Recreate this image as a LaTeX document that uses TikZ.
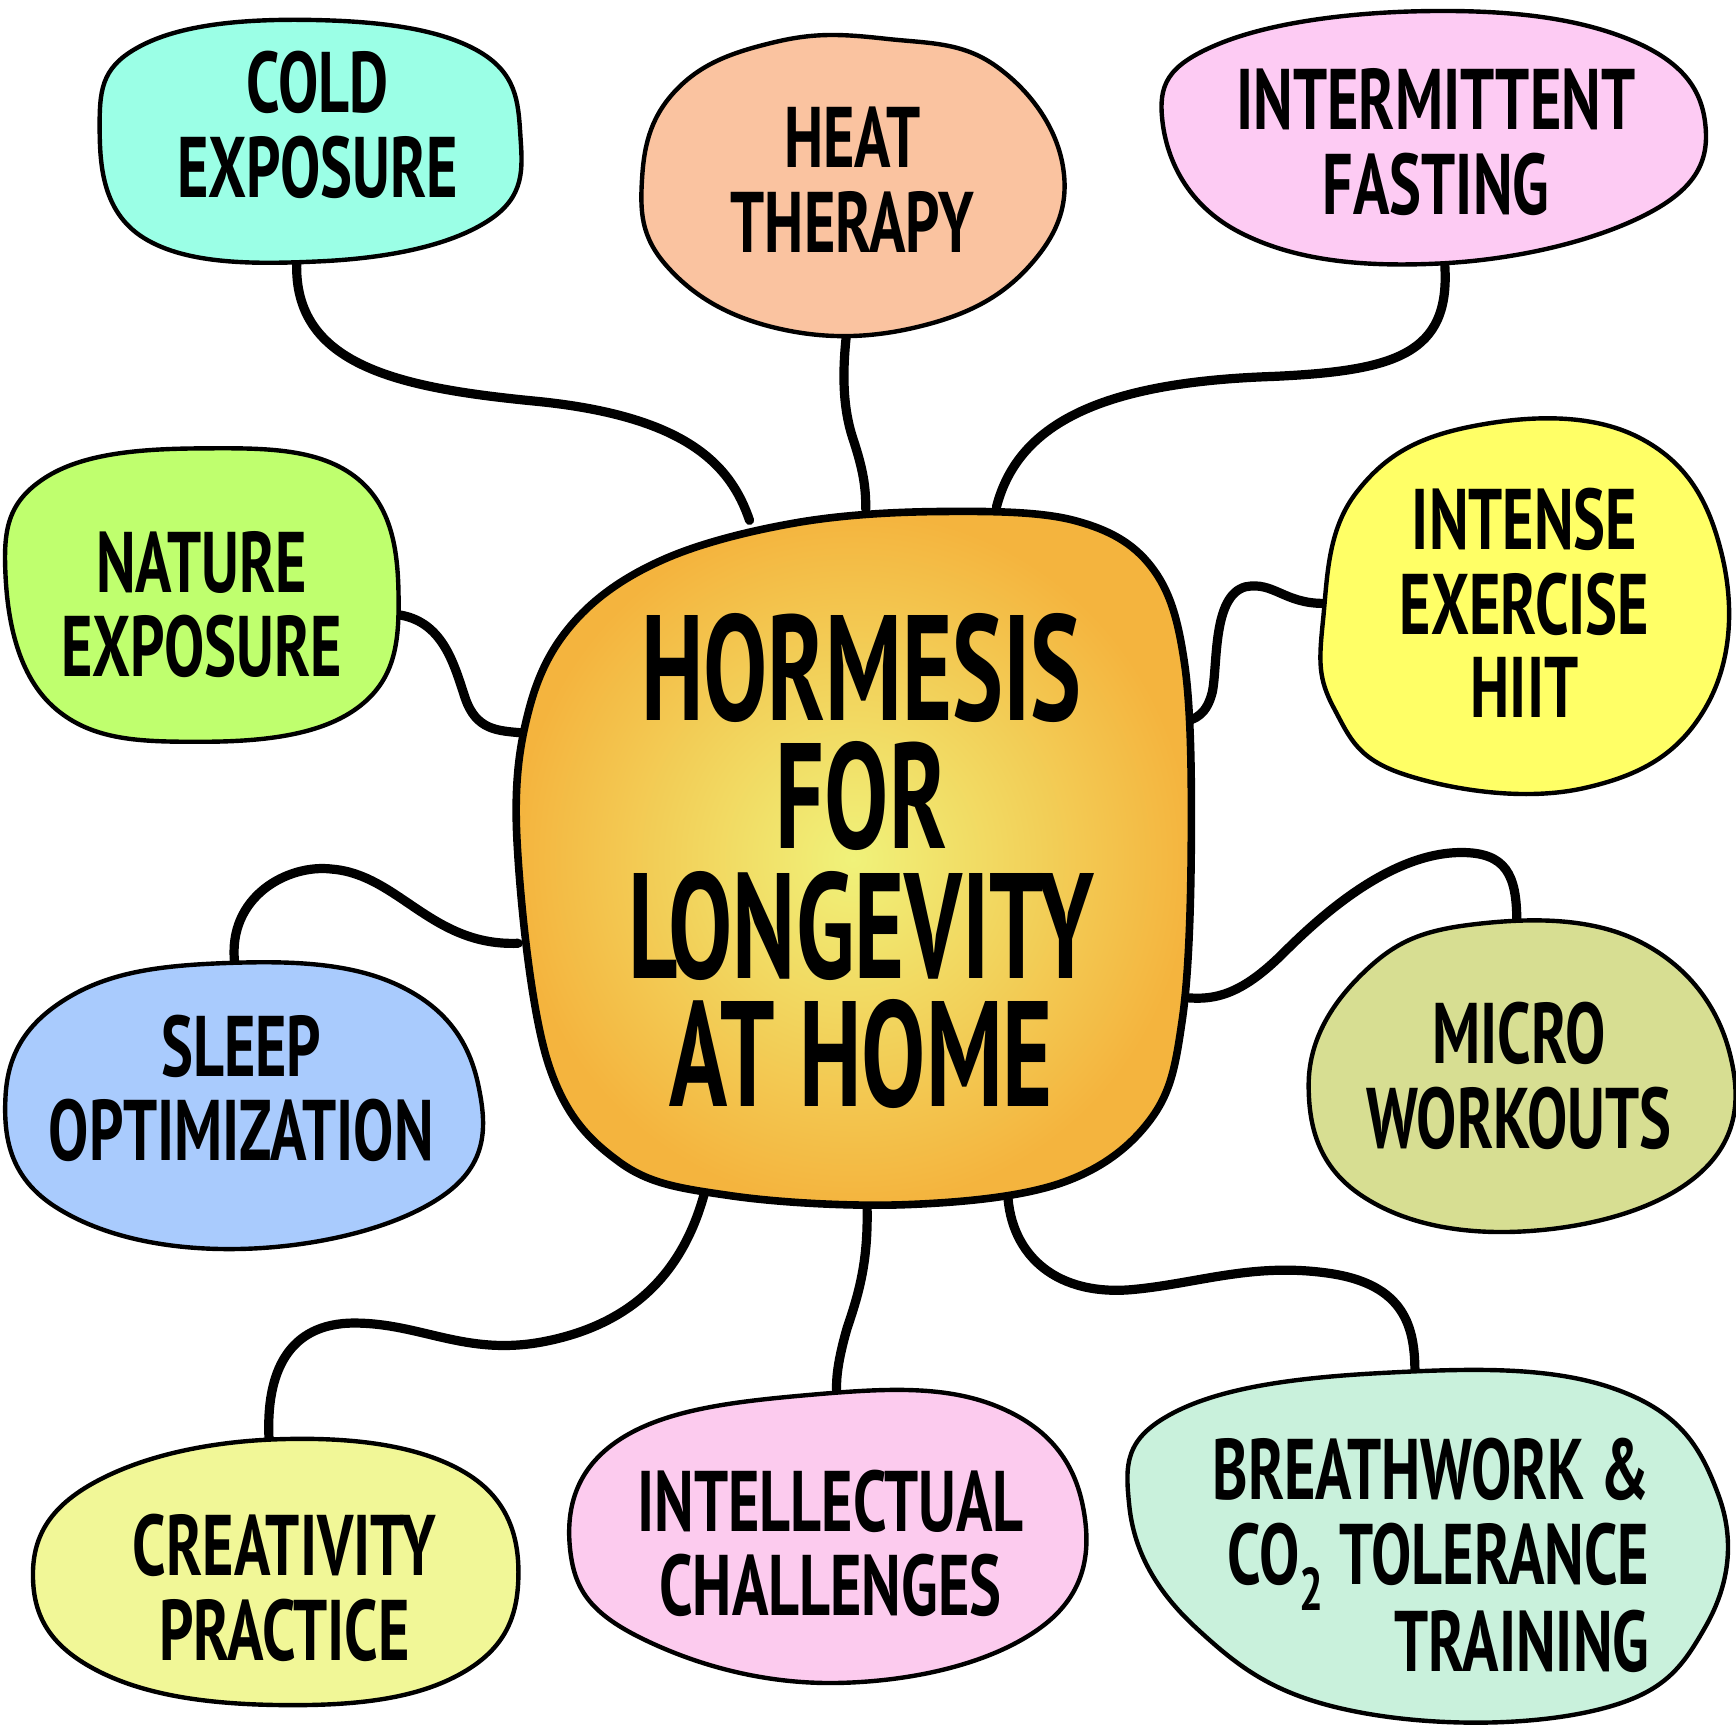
\documentclass[tikz,border=0pt]{standalone}
\usepackage{fontspec}
\setmainfont{PT Sans}
\usepackage{graphicx}
\definecolor{ccold}{HTML}{9BFFE6}
\definecolor{cheat}{HTML}{FAC3A0}
\definecolor{cint}{HTML}{FDCBF3}
\definecolor{cnat}{HTML}{BFFF6E}
\definecolor{cinten}{HTML}{FFFF66}
\definecolor{csleep}{HTML}{A9CBFD}
\definecolor{cmicro}{HTML}{D7DE92}
\definecolor{ccreat}{HTML}{F1F797}
\definecolor{cintel}{HTML}{FCCBEE}
\definecolor{cbreath}{HTML}{C9F1DC}
\definecolor{hubin}{HTML}{F0F27A}
\definecolor{hubout}{HTML}{F4B43E}
\newcommand{\lbl}[2][c]{{\fontsize{43}{39}\selectfont\bfseries\scalebox{0.7}[1]{\begin{tabular}{@{}#1@{}}#2\end{tabular}}}}
\newcommand{\hubt}[1]{{\fontsize{60}{60}\selectfont\bfseries\scalebox{0.8}[1.25]{#1}}}
\tikzset{
  bubble/.style={draw=black, line width=2.2pt, line join=round},
  conn/.style={draw=black, line width=4.6pt, line cap=round},
  txt/.style={inner sep=0pt, text=black}
}
\begin{document}
\begin{tikzpicture}[x=0.5535pt,y=-0.5535pt]
\useasboundingbox (0,0) rectangle (1568,1560);
\fill[white] (0,0) rectangle (1568,1560);
% connection points
\coordinate (cold-b) at (268,237);
\coordinate (heat-b) at (765,298);
\coordinate (int-b) at (1305,240);
\coordinate (nat-b) at (358,555);
\coordinate (inten-b) at (1195,545);
\coordinate (sleep-b) at (212,870);
\coordinate (micro-b) at (1370,832);
\coordinate (creat-b) at (243,1300);
\coordinate (intel-b) at (756,1262);
\coordinate (breath-b) at (1278,1240);
\coordinate (h-cold) at (677,470);
\coordinate (h-heat) at (782,460);
\coordinate (h-int) at (900,458);
\coordinate (h-nat) at (472,662);
\coordinate (h-inten) at (1068,652);
\coordinate (h-sleep) at (468,852);
\coordinate (h-micro) at (1063,900);
\coordinate (h-creat) at (637,1075);
\coordinate (h-intel) at (783,1085);
\coordinate (h-breath) at (910,1072);
% connectors
\draw[conn] (cold-b) .. controls (265,330) and (360,350) .. (480,362) .. controls (620,375) and (660,420) .. (h-cold);
\draw[conn] (heat-b) .. controls (760,340) and (762,370) .. (770,395) .. controls (780,425) and (782,440) .. (h-heat);
\draw[conn] (int-b) .. controls (1310,320) and (1260,335) .. (1150,340) .. controls (1000,345) and (920,380) .. (h-int);
\draw[conn] (nat-b) .. controls (400,560) and (410,600) .. (420,630) .. controls (430,660) and (450,660) .. (h-nat);
\draw[conn] (inten-b) .. controls (1160,545) and (1150,525) .. (1125,530) .. controls (1095,538) and (1100,600) .. (1095,625) .. controls (1090,645) and (1080,650) .. (h-inten);
\draw[conn] (sleep-b) .. controls (205,810) and (260,780) .. (300,785) .. controls (360,790) and (390,855) .. (h-sleep);
\draw[conn] (micro-b) .. controls (1370,790) and (1360,770) .. (1320,770) .. controls (1260,770) and (1200,820) .. (1160,860) .. controls (1120,900) and (1095,905) .. (h-micro);
\draw[conn] (creat-b) .. controls (240,1240) and (260,1195) .. (320,1195) .. controls (380,1195) and (420,1225) .. (490,1212) .. controls (580,1195) and (620,1140) .. (h-creat);
\draw[conn] (h-intel) .. controls (785,1140) and (775,1170) .. (765,1200) .. controls (755,1235) and (755,1250) .. (intel-b);
\draw[conn] (h-breath) .. controls (910,1130) and (950,1170) .. (1020,1165) .. controls (1080,1160) and (1130,1140) .. (1200,1150) .. controls (1270,1160) and (1278,1200) .. (breath-b);
% hub
\def\hubpath{plot[smooth cycle, tension=0.6] coordinates {(467,760) (478,640) (520,560) (600,505) (720,472) (850,462) (970,470) (1040,512) (1070,600) (1076,760) (1068,920) (1040,1010) (960,1068) (820,1088) (660,1080) (560,1050) (495,960)}}
\shade[inner color=hubin, outer color=hubout] \hubpath;
\draw[black, line width=3.8pt] \hubpath;
% bubbles
\filldraw[bubble, fill=ccold] plot[smooth cycle, tension=0.7] coordinates {(90,112) (130,40) (280,18) (430,45) (470,122) (440,200) (290,236) (130,215)};
\filldraw[bubble, fill=cheat] plot[smooth cycle, tension=0.7] coordinates {(580,160) (612,80) (700,38) (800,35) (900,60) (960,150) (930,240) (830,295) (700,296) (602,240)};
\filldraw[bubble, fill=cint] plot[smooth cycle, tension=0.7] coordinates {(1050,110) (1100,40) (1290,10) (1470,35) (1540,110) (1490,192) (1300,238) (1120,210)};
\filldraw[bubble, fill=cnat] plot[smooth cycle, tension=0.7] coordinates {(5,520) (40,432) (180,405) (320,430) (360,540) (322,640) (180,670) (50,640)};
\filldraw[bubble, fill=cinten] plot[smooth cycle, tension=0.7] coordinates {(1195,560) (1225,445) (1330,385) (1480,395) (1555,500) (1540,640) (1430,712) (1270,700) (1205,640)};
\filldraw[bubble, fill=csleep] plot[smooth cycle, tension=0.7] coordinates {(5,990) (60,902) (200,870) (360,890) (432,980) (400,1080) (220,1128) (50,1090)};
\filldraw[bubble, fill=cmicro] plot[smooth cycle, tension=0.7] coordinates {(1182,980) (1230,880) (1330,835) (1480,850) (1562,950) (1535,1060) (1380,1112) (1230,1080)};
\filldraw[bubble, fill=ccreat] plot[smooth cycle, tension=0.7] coordinates {(30,1430) (80,1342) (250,1300) (420,1330) (468,1430) (410,1515) (250,1540) (90,1510)};
\filldraw[bubble, fill=cintel] plot[smooth cycle, tension=0.7] coordinates {(515,1400) (560,1300) (730,1260) (900,1270) (978,1360) (940,1470) (760,1520) (580,1480)};
\filldraw[bubble, fill=cbreath] plot[smooth cycle, tension=0.7] coordinates {(1020,1360) (1060,1276) (1250,1240) (1460,1255) (1552,1350) (1540,1470) (1440,1545) (1220,1545) (1080,1470)};
% texts
\node[txt] (t-cold) at (287,123) {\lbl{COLD\\EXPOSURE}};
\node[txt] (t-heat) at (770,173) {\lbl{HEAT\\THERAPY}};
\node[txt] (t-int) at (1297,138) {\lbl{INTERMITTENT\\FASTING}};
\node[txt] (t-nat) at (182,556) {\lbl{NATURE\\EXPOSURE}};
\node[txt] (t-inten) at (1377,555) {\lbl{INTENSE\\EXERCISE\\HIIT}};
\node[txt] (t-sleep) at (218,993) {\lbl{SLEEP\\OPTIMIZATION}};
\node[txt] (t-micro) at (1372,982) {\lbl{MICRO\\WORKOUTS}};
\node[txt] (t-creat) at (257,1444) {\lbl{CREATIVITY\\PRACTICE}};
\node[txt] (t-intel) at (750,1404) {\lbl{INTELLECTUAL\\CHALLENGES}};
\node[txt, anchor=east] (t-breath) at (1490,1415) {\lbl[r]{BREATHWORK \&\\CO\textsubscript{2} TOLERANCE\\TRAINING}};
\node[txt] (t-hub1) at (778,603) {\hubt{HORMESIS}};
\node[txt] (t-hub2) at (778,719) {\hubt{FOR}};
\node[txt] (t-hub3) at (778,836) {\hubt{LONGEVITY}};
\node[txt] (t-hub4) at (778,952) {\hubt{AT HOME}};
\end{tikzpicture}
\end{document}
